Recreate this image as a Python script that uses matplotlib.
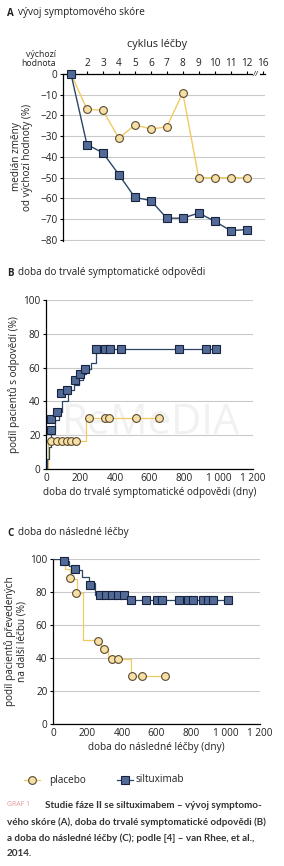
import matplotlib
matplotlib.use("Agg")
import matplotlib.pyplot as plt

plt.rcParams['font.family'] = ['Open Sans', 'DejaVu Sans']

# --- A: vyvoj symptomoveho skore ---
cyklus = ['výchozí hodnota', '2', '3', '4', '5', '6', '7', '8', '9', '10', '11', '12', '16']
placebo_A = [0, -17, -17.5, -31, -24.5, -26.5, -25.5, -9, -50, -50, -50, -50]
silt_A = [0, -34, -38, -48.5, -59.5, -61, -69.5, -69.5, -67, -71, -75.5, -75]

# --- B: doba do trvale symptomaticke odpovedi ---
silt_B_x = [0, 8, 16, 28, 50, 75, 95, 125, 165, 190, 215, 232, 259, 290, 985]
silt_B_y = [0, 6, 13, 23, 29, 33.5, 40, 46.7, 50, 52.7, 56.2, 59, 63, 71.2, 71.2]
silt_B_mx = [27, 31, 66, 87, 120, 170, 195, 226, 291, 342, 371, 434, 770, 925, 985]
silt_B_my = [23, 29.6, 33.5, 44.8, 46.7, 52.7, 56.2, 59, 71.2, 71.2, 71.2, 71.2, 71.2, 71.2, 71.2]
plac_B_x = [0, 13, 232, 656]
plac_B_y = [0, 16.6, 30.4, 30.4]
plac_B_mx = [27, 62, 91, 120, 143, 172, 251, 342, 363, 521, 656]
plac_B_my = [16.6, 16.6, 16.6, 16.6, 16.6, 16.6, 30.4, 30.4, 30.4, 30.4, 30.4]

# --- C: doba do nasledne lecby ---
silt_C_x = [0, 62, 95, 124, 170, 211, 245, 431, 1015]
silt_C_y = [100, 98.5, 96, 93.3, 89, 85.5, 78.4, 74.9, 74.9]
silt_C_mx = [64, 129, 214, 274, 309, 344, 379, 413, 455, 540, 600, 630, 730, 785, 810, 870, 900, 925, 1015]
silt_C_my = [99, 93.7, 84.5, 78.4, 78.4, 78.4, 78.4, 78.4, 74.9, 74.9, 74.9, 74.9, 74.9, 74.9, 74.9, 74.9, 74.9, 74.9, 74.9]
plac_C_x = [0, 70, 100, 139, 172, 280, 320, 455, 647]
plac_C_y = [100, 94, 88, 79.4, 51, 45.5, 39.2, 29, 29]
plac_C_mx = [101, 133, 258, 297, 341, 374, 459, 516, 647]
plac_C_my = [88.5, 79.4, 50.6, 45.5, 39.2, 39.2, 29, 29, 29]

km_ticks = [0, 200, 400, 600, 800, 1000, 1200]
km_labels = ['0', '200', '400', '600', '800', '1 000', '1 200']

# barvy
c_pl_line = '#f0cb62'
c_pl_fill = '#f7e0a6'
c_pl_edge = '#5b4a2e'
c_si_line = '#2c4666'
c_si_fill = '#526a96'
c_si_edge = '#17233d'
c_grid = '#c9c9c9'
c_text = '#222222'

W, H = 284, 866
fig = plt.figure(figsize=(W / 100, H / 100), dpi=100)

def fx(px):
    return px / W

def fy(py):
    return 1 - py / H

pl_kw = dict(marker='o', markersize=5.6, markerfacecolor=c_pl_fill, markeredgecolor=c_pl_edge,
             markeredgewidth=0.8, linestyle='none', clip_on=False, zorder=4)
si_kw = dict(marker='s', markersize=5.6, markerfacecolor=c_si_fill, markeredgecolor=c_si_edge,
             markeredgewidth=0.8, linestyle='none', clip_on=False, zorder=5)

def panel_title(py, letter, text):
    fig.text(fx(7), fy(py), letter, fontsize=7, fontweight='bold', color=c_text, va='center')
    fig.text(fx(18), fy(py), text, fontsize=7.2, color=c_text, va='center')

# ---------------- A ----------------
panel_title(13, 'A', 'vývoj symptomového skóre')
axA = fig.add_axes([fx(63), fy(241), (265 - 63) / W, (241 - 74) / H])
pos = list(range(1, len(cyklus) + 1))
axA.plot(pos[:len(placebo_A)], placebo_A, color=c_pl_line, lw=1, zorder=2)
axA.plot(pos[:len(silt_A)], silt_A, color=c_si_line, lw=1, zorder=3)
axA.plot(pos[:len(placebo_A)], placebo_A, **pl_kw)
axA.plot(pos[:len(silt_A)], silt_A, **si_kw)
axA.set_xlim(0.5, 13.15)
axA.set_ylim(-80.5, 0)
axA.xaxis.tick_top()
axA.set_xticks(pos[1:])
axA.set_xticklabels(cyklus[1:], fontsize=7.2, color=c_text)
axA.set_yticks(range(-80, 1, 10))
axA.set_yticklabels(['0' if v == 0 else '−%d' % -v for v in range(-80, 1, 10)], fontsize=7.2, color=c_text)
axA.tick_params(axis='x', direction='out', length=2.5, width=0.8, pad=1)
axA.tick_params(axis='y', direction='out', length=2.5, width=0.8, pad=1.5)
axA.yaxis.grid(True, color=c_grid, lw=0.8)
axA.set_axisbelow(True)
for s in ['right', 'bottom']:
    axA.spines[s].set_visible(False)
axA.spines['top'].set_linewidth(0.9)
axA.spines['left'].set_linewidth(0.9)
axA.text(12.6, 0, '//', fontsize=6, ha='center', va='center', color=c_text,
         bbox=dict(facecolor='white', edgecolor='none', pad=0.2), zorder=6, clip_on=False)
fig.text(fx(157), fy(45), 'cyklus léčby', fontsize=7.8, ha='center', va='center', color=c_text)
fig.text(fx(56), fy(59), 'výchozí\nhodnota', fontsize=6.3, ha='right', va='center',
         color=c_text, linespacing=0.95, multialignment='right')
fig.text(fx(22), fy(157), 'medián změny\nod výchozí hodnoty (%)', fontsize=7.2, rotation=90,
         ha='center', va='center', color=c_text, linespacing=1.0)

# ---------------- B ----------------
panel_title(273, 'B', 'doba do trvalé symptomatické odpovědi')
axB = fig.add_axes([fx(46), fy(469), (253 - 46) / W, (469 - 300) / H])
axB.text(610, 27, 'ReMeDIA', fontsize=30, color='#f1f1f1', ha='center', va='center', zorder=0)
axB.plot(plac_B_x, plac_B_y, drawstyle='steps-post', color=c_pl_line, lw=0.9, zorder=2)
axB.plot(silt_B_x, silt_B_y, drawstyle='steps-post', color=c_si_line, lw=0.9, zorder=3)
axB.plot(plac_B_mx, plac_B_my, **pl_kw)
axB.plot(silt_B_mx, silt_B_my, **si_kw)
axB.set_xlabel('doba do trvalé symptomatické odpovědi (dny)', fontsize=7.2, color=c_text, labelpad=2)
axB.set_ylabel('podíl pacientů s odpovědí (%)', fontsize=7.2, color=c_text, labelpad=2)

# ---------------- C ----------------
panel_title(533, 'C', 'doba do následné léčby')
axC = fig.add_axes([fx(53), fy(724), (260 - 53) / W, (724 - 559) / H])
axC.plot(plac_C_x, plac_C_y, drawstyle='steps-post', color=c_pl_line, lw=0.9, zorder=2)
axC.plot(silt_C_x, silt_C_y, drawstyle='steps-post', color=c_si_line, lw=0.9, zorder=3)
axC.plot(plac_C_mx, plac_C_my, **pl_kw)
axC.plot(silt_C_mx, silt_C_my, **si_kw)
axC.set_xlabel('doba do následné léčby (dny)', fontsize=7.2, color=c_text, labelpad=2)
axC.set_ylabel('podíl pacientů převedených\nna další léčbu (%)', fontsize=7.2, color=c_text,
               labelpad=2, linespacing=1.0)

for ax in [axB, axC]:
    ax.set_xlim(0, 1200)
    ax.set_ylim(0, 100)
    ax.set_xticks(km_ticks)
    ax.set_xticklabels(km_labels, fontsize=7.2, color=c_text)
    ax.set_yticks([0, 20, 40, 60, 80, 100])
    ax.tick_params(axis='y', labelsize=7.2, labelcolor=c_text, direction='out', length=2.5, width=0.8, pad=1.5)
    ax.tick_params(axis='x', direction='out', length=0, pad=3)
    ax.yaxis.grid(True, color=c_grid, lw=0.8)
    ax.set_axisbelow(True)
    for s in ['right', 'top']:
        ax.spines[s].set_visible(False)
    ax.spines['left'].set_linewidth(0.9)
    ax.spines['bottom'].set_linewidth(0.9)

# ---------------- legenda ----------------
ly = fy(780)
fig.add_artist(plt.Line2D([fx(24), fx(40)], [ly, ly], color=c_pl_line, lw=0.9))
fig.add_artist(plt.Line2D([fx(32)], [ly], marker='o', markersize=5.6, markerfacecolor=c_pl_fill,
                          markeredgecolor=c_pl_edge, markeredgewidth=0.8))
fig.text(fx(49), ly, 'placebo', fontsize=7.2, va='center', color=c_text)
fig.add_artist(plt.Line2D([fx(117), fx(133)], [ly, ly], color=c_si_line, lw=0.9))
fig.add_artist(plt.Line2D([fx(125)], [ly], marker='s', markersize=5.6, markerfacecolor=c_si_fill,
                          markeredgecolor=c_si_edge, markeredgewidth=0.8))
fig.text(fx(136), ly, 'siltuximab', fontsize=7.2, va='center', color=c_text)

# ---------------- popisek ----------------
fig.text(fx(7), fy(805), 'GRAF 1', fontsize=5, color='#e39a9a', va='center')
cap = ['Studie fáze II se siltuximabem – vývoj symptomo-',
       'vého skóre (A), doba do trvalé symptomatické odpovědi (B)',
       'a doba do následné léčby (C); podle [4] – van Rhee, et al.,',
       '2014.']
cap_x = [45, 7, 7, 7]
cap_y = [805, 822, 838, 854]
for t, x, y in zip(cap, cap_x, cap_y):
    fig.text(fx(x), fy(y), t, fontsize=7.1, fontweight='bold', color='#333333', va='center',
             family=['Lato', 'DejaVu Sans'])

fig.savefig('out.png', dpi=100)
